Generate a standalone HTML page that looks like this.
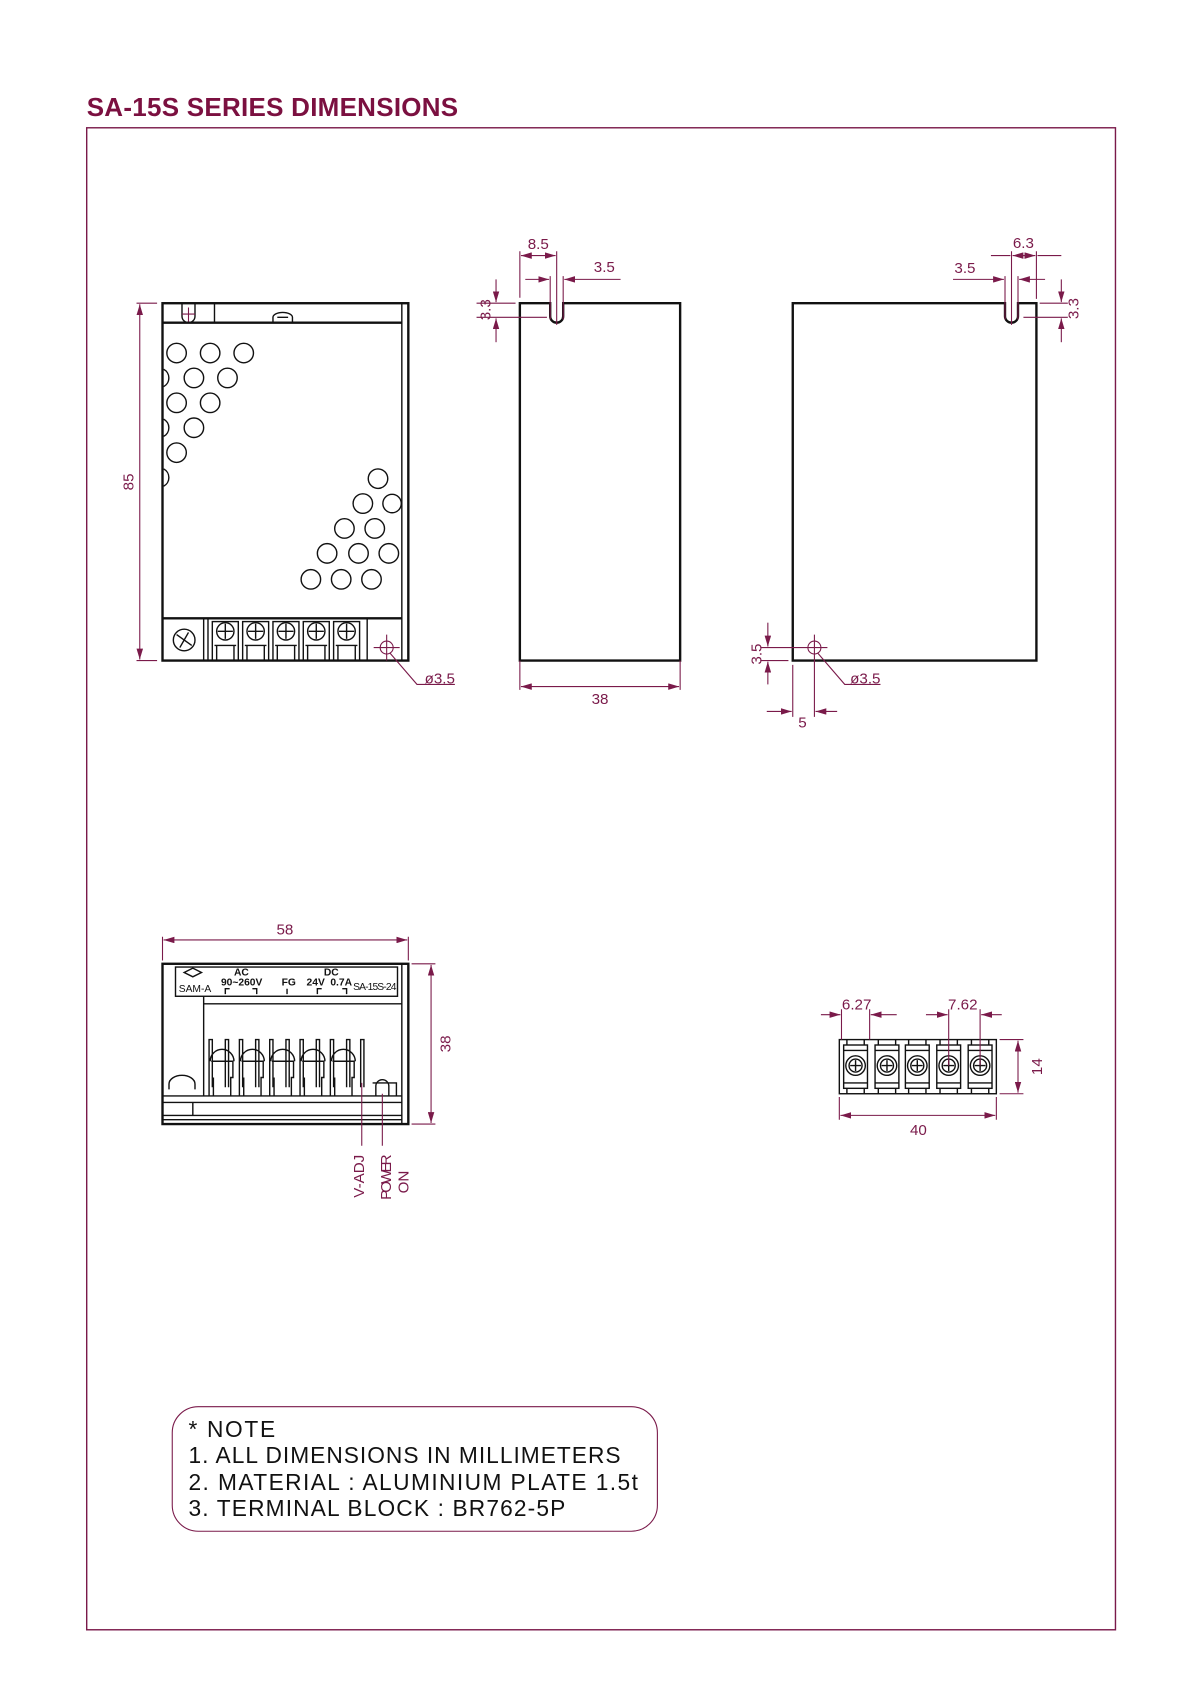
<!DOCTYPE html>
<html><head><meta charset="utf-8"><style>
html,body{margin:0;padding:0;background:#fff;width:1200px;height:1698px;overflow:hidden}
svg{display:block}
.d{stroke:#7a1a4a;stroke-width:1;fill:none}
.k{stroke:#111;stroke-width:2.2;fill:none}
.t{stroke:#111;stroke-width:1.3;fill:none}
.lb{fill:#7a1a4a;font-family:"Liberation Sans",sans-serif;font-size:14px}
.bk{fill:#111;font-family:"Liberation Sans",sans-serif}
</style></head><body>
<svg width="1200" height="1698" viewBox="0 0 1108 1568" xmlns="http://www.w3.org/2000/svg">
<defs>
<marker id="a" viewBox="0 0 10 6" refX="10" refY="3" markerWidth="10" markerHeight="6" orient="auto-start-reverse" markerUnits="userSpaceOnUse"><path d="M0,0 L10,3 L0,6 z" fill="#7a1a4a"/></marker>
</defs>
<text x="80" y="107" fill="#7b1040" font-family="Liberation Sans,sans-serif" font-size="24" font-weight="bold" textLength="343">SA-15S  SERIES  DIMENSIONS</text>
<rect x="80" y="118" width="950" height="1387" fill="none" stroke="#7a1a4a" stroke-width="1.3"/>

<!-- VIEW 1 -->
<rect x="150" y="280" width="227" height="330" class="k"/>
<line x1="371" y1="280" x2="371" y2="610" class="t"/>
<line x1="150" y1="298" x2="371" y2="298" class="k"/>
<line x1="198" y1="280" x2="198" y2="298" class="t"/>
<path d="M168,280 V292 A6,6 0 0 0 180,292 V280" class="t"/>
<path d="M252,297 V293 A8,4 0 0 1 270,293 V297 M256,293 H266" class="t"/>
<line x1="150" y1="571" x2="371" y2="571" class="k"/>
<g class="t">
<circle cx="163" cy="326" r="9"/><circle cx="194" cy="326" r="9"/><circle cx="225" cy="326" r="9"/>
<circle cx="179" cy="349" r="9"/><circle cx="210" cy="349" r="9"/>
<circle cx="163" cy="372" r="9"/><circle cx="194" cy="372" r="9"/>
<circle cx="179" cy="395" r="9"/><circle cx="163" cy="418" r="9"/>
<path d="M151,341 A9,9 0 0 1 151,357 M151,387 A9,9 0 0 1 151,403 M151,433 A9,9 0 0 1 151,449"/>
<circle cx="349" cy="442" r="9"/><circle cx="335" cy="465" r="9"/><circle cx="362" cy="465" r="8.5"/>
<circle cx="318" cy="488" r="9"/><circle cx="346" cy="488" r="9"/>
<circle cx="302" cy="511" r="9"/><circle cx="331" cy="511" r="9"/><circle cx="359" cy="511" r="9"/>
<circle cx="287" cy="535" r="9"/><circle cx="315" cy="535" r="9"/><circle cx="343" cy="535" r="9"/>
<circle cx="170" cy="591" r="10"/><path d="M163,586 L177,596 M166,598 L174,584"/>
<line x1="188" y1="571" x2="188" y2="610"/><line x1="192" y1="571" x2="192" y2="610"/>
<line x1="339" y1="571" x2="339" y2="610"/>
</g>
<g class="t">
<g id="tm"><rect x="196" y="574" width="24" height="36"/><circle cx="208" cy="583" r="8"/><path d="M208,576 V590 M201,583 H215 M198,596 H218 M200,596 V610 M216,596 V610"/></g>
<use href="#tm" x="28"/><use href="#tm" x="56"/><use href="#tm" x="84"/><use href="#tm" x="112"/>
</g>
<circle cx="357" cy="598" r="6" class="d"/><path d="M345,598 H369 M357,586 V610 M360,603 L385,632 H420" class="d"/>
<text x="392" y="631" class="lb">ø3.5</text>
<path d="M126,280 H145 M126,610 H145" class="d"/>
<line x1="129" y1="281" x2="129" y2="609" class="d" marker-start="url(#a)" marker-end="url(#a)"/>
<text transform="translate(123,445) rotate(-90)" class="lb" text-anchor="middle">85</text>
<path d="M174,284 V297 M168,290 H180" class="d"/>

<!-- VIEW 2 -->
<path d="M480,280 H508 V292 A6,6 0 0 0 520,292 V280 H628 V610 H480 Z" class="k"/>
<path d="M480,232 V275 M514,232 V300 M508,255 V295 M520,255 V295 M440,280 H476 M440,293 H505 M480,610 V637 M628,610 V637" class="d"/>
<line x1="481" y1="236" x2="513" y2="236" class="d" marker-start="url(#a)" marker-end="url(#a)"/>
<path d="M485,258 H507" class="d" marker-end="url(#a)"/><path d="M573,258 H521" class="d" marker-end="url(#a)"/>
<path d="M458,258 V279" class="d" marker-end="url(#a)"/><path d="M458,316 V294" class="d" marker-end="url(#a)"/>
<line x1="481" y1="634" x2="627" y2="634" class="d" marker-start="url(#a)" marker-end="url(#a)"/>
<text x="497" y="230" class="lb" text-anchor="middle">8.5</text>
<text x="558" y="251" class="lb" text-anchor="middle">3.5</text>
<text transform="translate(453,286) rotate(-90)" class="lb" text-anchor="middle">3.3</text>
<text x="554" y="650" class="lb" text-anchor="middle">38</text>

<!-- VIEW 3 -->
<path d="M732,280 H928 V292 A6,6 0 0 0 940,292 V280 H957 V610 H732 Z" class="k"/>
<path d="M934,232 V300 M957,232 V276 M928,255 V295 M940,255 V295 M960,280 H986 M945,293 H986" class="d"/>
<line x1="935" y1="236" x2="956" y2="236" class="d" marker-start="url(#a)" marker-end="url(#a)"/>
<path d="M915,236 H933 M958,236 H980" class="d"/>
<path d="M880,258 H927" class="d" marker-end="url(#a)"/><path d="M965,258 H941" class="d" marker-end="url(#a)"/>
<path d="M980,258 V279" class="d" marker-end="url(#a)"/><path d="M980,316 V294" class="d" marker-end="url(#a)"/>
<text x="945" y="229" class="lb" text-anchor="middle">6.3</text>
<text x="891" y="252" class="lb" text-anchor="middle">3.5</text>
<text transform="translate(996,285) rotate(-90)" class="lb" text-anchor="middle">3.3</text>
<circle cx="752" cy="598" r="6" class="d"/><path d="M738,598 H764 M752,586 V662 M755,603 L780,632 H813 M702,598 H746 M702,610 H728 M732,614 V662" class="d"/>
<text x="785" y="631" class="lb">ø3.5</text>
<path d="M709,575 V597" class="d" marker-end="url(#a)"/><path d="M709,632 V611" class="d" marker-end="url(#a)"/>
<text transform="translate(703,604) rotate(-90)" class="lb" text-anchor="middle">3.5</text>
<path d="M708,657 H731" class="d" marker-end="url(#a)"/><path d="M773,657 H753" class="d" marker-end="url(#a)"/>
<text x="741" y="672" class="lb" text-anchor="middle">5</text>

<!-- VIEW 4 -->
<rect x="150" y="890" width="227" height="148" class="k"/>
<line x1="371" y1="890" x2="371" y2="1038" class="t"/>
<rect x="162" y="893" width="205" height="27" class="t"/>
<path d="M188,927 H371 M188,920 V1012 M150,1012 H371 M150,1018 H371 M150,1030 H371 M178,1018 V1030 M150,1034 H371" class="t"/>
<path d="M156,1006 V1001 A6,4 0 0 1 180,1001 V1006" class="t"/>
<g class="t">
<g id="tp"><path d="M193,1012 V960 H196 V1004 M194,980 A11,11 0 0 1 216,980 M195,980 H215 V995 H213 V1012 M197,995 V1012 M208,1004 V960 H211 V1004"/></g>
<use href="#tp" x="28"/><use href="#tp" x="56"/><use href="#tp" x="84"/><use href="#tp" x="112"/>
<path d="M333,1004 V960 H336 V1004 M344,1000 H366 V1012 M347,1012 V1003 A6,6 0 0 1 359,1003 V1012"/>
</g>
<g class="bk" font-size="9.5">
<text x="165" y="916">SAM-A</text>
<text x="216" y="901" font-weight="bold">AC</text>
<text x="204" y="910" font-weight="bold">90~260V</text>
<text x="260" y="910" font-weight="bold">FG</text>
<text x="299" y="901" font-weight="bold">DC</text>
<text x="283" y="910" font-weight="bold">24V</text>
<text x="305" y="910" font-weight="bold">0.7A</text>
<text x="326" y="914" textLength="40">SA-15S-24</text>
</g>
<path d="M170,898 L178,894 L186,898 L178,902 Z M208,918 V913 H212 M233,913 H237 V918 M265,913 V918 M293,918 V913 H297 M316,913 H320 V918" class="t" stroke-width="0.9"/>
<path d="M150,887 V865 M377,887 V865 M380,890 H402 M380,1038 H402" class="d"/>
<line x1="151" y1="868" x2="376" y2="868" class="d" marker-start="url(#a)" marker-end="url(#a)"/>
<line x1="398" y1="891" x2="398" y2="1037" class="d" marker-start="url(#a)" marker-end="url(#a)"/>
<text x="263" y="863" class="lb" text-anchor="middle">58</text>
<text transform="translate(416,964) rotate(-90)" class="lb" text-anchor="middle">38</text>
<path d="M334,1000 V1058 M353,1010 V1058" class="d"/>
<text transform="translate(336,1106) rotate(-90)" class="lb" font-size="13">V-ADJ</text>
<text transform="translate(361,1108) rotate(-90)" class="lb" font-size="12" textLength="42">POWER</text>
<text transform="translate(377,1102) rotate(-90)" class="lb" font-size="12">ON</text>

<!-- VIEW 5 -->
<rect x="775" y="960" width="145" height="50" class="t"/>
<g class="t">
<g id="tb"><rect x="779" y="965" width="22" height="40"/><path d="M779,970 H801 M779,1000 H801 M782,960 V965 M798,960 V965 M782,1005 V1010 M798,1005 V1010"/><circle cx="790" cy="984" r="9"/><circle cx="790" cy="984" r="6"/><path d="M790,979 V989 M785,984 H795"/></g>
<use href="#tb" x="29"/><use href="#tb" x="57"/><use href="#tb" x="86"/><use href="#tb" x="115"/>
</g>
<path d="M777,932 V960 M803,932 V960 M876,932 V984 M905,932 V984 M923,960 H945 M923,1010 H945 M775,1013 V1034 M920,1013 V1034" class="d"/>
<path d="M758,937 H776" class="d" marker-end="url(#a)"/><path d="M828,937 H804" class="d" marker-end="url(#a)"/>
<path d="M855,937 H875" class="d" marker-end="url(#a)"/><path d="M925,937 H906" class="d" marker-end="url(#a)"/>
<line x1="940" y1="961" x2="940" y2="1009" class="d" marker-start="url(#a)" marker-end="url(#a)"/>
<line x1="776" y1="1030" x2="919" y2="1030" class="d" marker-start="url(#a)" marker-end="url(#a)"/>
<text x="791" y="932" class="lb" text-anchor="middle">6.27</text>
<text x="889" y="932" class="lb" text-anchor="middle">7.62</text>
<text transform="translate(962,985) rotate(-90)" class="lb" text-anchor="middle">14</text>
<text x="848" y="1048" class="lb" text-anchor="middle">40</text>

<!-- NOTE -->
<rect x="159" y="1299" width="448" height="115" rx="24" fill="none" stroke="#7a1a4a" stroke-width="1"/>
<g class="bk" font-size="21">
<text x="174" y="1327" textLength="80">*  NOTE</text>
<text x="174" y="1351" textLength="399">1.  ALL  DIMENSIONS  IN  MILLIMETERS</text>
<text x="174" y="1376" textLength="415">2.  MATERIAL  :  ALUMINIUM  PLATE  1.5t</text>
<text x="174" y="1400" textLength="348">3.  TERMINAL  BLOCK  :  BR762-5P</text>
</g>
</svg>
</body></html>
